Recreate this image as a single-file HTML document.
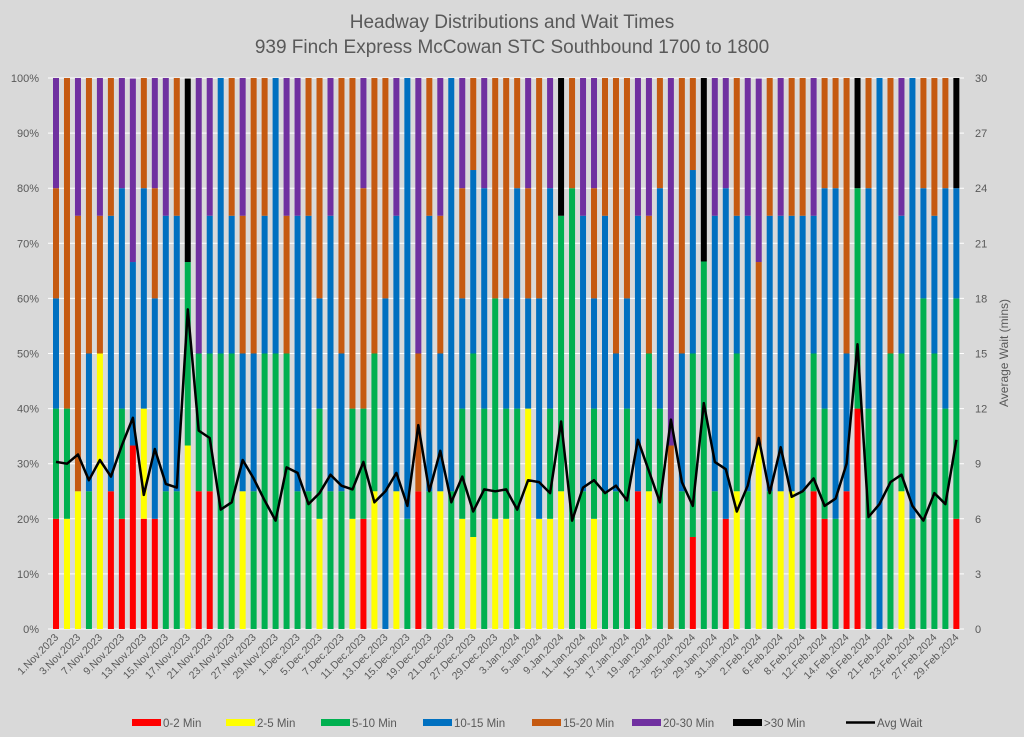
<!DOCTYPE html>
<html><head><meta charset="utf-8">
<style>
html,body{margin:0;padding:0;background:#d9d9d9;}
svg{display:block;font-family:"Liberation Sans",sans-serif;}
</style></head>
<body>
<svg id="chart" width="1024" height="737" viewBox="0 0 1024 737" xmlns="http://www.w3.org/2000/svg">
<rect x="0" y="0" width="1024" height="737" fill="#d9d9d9"/>
<text x="512" y="28" text-anchor="middle" font-size="19" fill="#595959">Headway Distributions and Wait Times</text>
<text x="512" y="53" text-anchor="middle" font-size="19" fill="#595959">939 Finch Express  McCowan STC Southbound 1700 to 1800</text>
<g id="grid"></g>
<g id="bars"></g>
<g id="line"></g>
<g id="axes"></g>
<text transform="translate(1008,353) rotate(-90)" text-anchor="middle" font-size="12" fill="#595959">Average Wait (mins)</text>
<g id="legend"></g>
</svg>
<script>
const categories = [
"1.Nov.2023","2.Nov.2023","3.Nov.2023","6.Nov.2023","7.Nov.2023","8.Nov.2023","9.Nov.2023","10.Nov.2023","13.Nov.2023","14.Nov.2023","15.Nov.2023","16.Nov.2023","17.Nov.2023","20.Nov.2023","21.Nov.2023","22.Nov.2023","23.Nov.2023","24.Nov.2023","27.Nov.2023","28.Nov.2023","29.Nov.2023","30.Nov.2023",
"1.Dec.2023","4.Dec.2023","5.Dec.2023","6.Dec.2023","7.Dec.2023","8.Dec.2023","11.Dec.2023","12.Dec.2023","13.Dec.2023","14.Dec.2023","15.Dec.2023","18.Dec.2023","19.Dec.2023","20.Dec.2023","21.Dec.2023","22.Dec.2023","27.Dec.2023","28.Dec.2023","29.Dec.2023",
"2.Jan.2024","3.Jan.2024","4.Jan.2024","5.Jan.2024","8.Jan.2024","9.Jan.2024","10.Jan.2024","11.Jan.2024","12.Jan.2024","15.Jan.2024","16.Jan.2024","17.Jan.2024","18.Jan.2024","19.Jan.2024","22.Jan.2024","23.Jan.2024","24.Jan.2024","25.Jan.2024","26.Jan.2024","29.Jan.2024","30.Jan.2024","31.Jan.2024",
"1.Feb.2024","2.Feb.2024","5.Feb.2024","6.Feb.2024","7.Feb.2024","8.Feb.2024","9.Feb.2024","12.Feb.2024","13.Feb.2024","14.Feb.2024","15.Feb.2024","16.Feb.2024","20.Feb.2024","21.Feb.2024","22.Feb.2024","23.Feb.2024","26.Feb.2024","27.Feb.2024","28.Feb.2024","29.Feb.2024"];
const seriesNames = ["0-2 Min","2-5 Min","5-10 Min","10-15 Min","15-20 Min","20-30 Min",">30 Min"];
const seriesColors = ["#ff0000","#ffff00","#00b050","#0070c0","#c55a11","#7030a0","#000000"];
const red    = [20,0,0,0,0,25,20,33.3,20,20,0,0,0,25,25,0,0,0,0,0,0,0,0,0,0,0,0,0,20,0,0,0,0,25,0,0,0,0,0,0,0,0,0,0,0,0,0,0,0,0,0,0,0,25,0,0,0,0,16.7,0,0,20,0,0,0,0,0,0,0,25,20,0,25,40,0,0,0,0,0,0,0,0,20];
const yellow = [0,20,25,0,50,0,0,0,20,0,0,0,33.3,0,0,0,0,25,0,0,0,0,0,0,20,0,0,20,0,25,0,25,0,0,0,25,0,20,16.7,0,20,20,0,40,20,20,25,0,0,20,0,0,0,0,25,0,0,0,0,0,0,0,25,0,33.3,0,25,25,0,0,0,0,0,0,0,0,0,25,0,0,0,0,0];
const green  = [20,20,0,25,0,0,20,0,0,0,25,25,33.3,25,25,50,50,0,25,50,50,50,25,25,20,25,25,20,20,25,0,0,20,0,25,0,25,20,33.3,40,40,20,40,0,0,20,50,80,25,20,25,25,40,0,25,40,0,25,33.3,66.7,25,0,25,25,0,25,0,0,25,25,20,20,0,40,40,0,50,25,20,60,50,40,40];
const blue   = [20,0,0,25,0,50,40,33.3,40,40,50,50,0,0,25,50,25,25,25,25,50,0,50,50,20,50,25,0,0,0,60,50,80,0,50,25,75,20,33.3,40,0,20,40,20,40,40,0,0,50,20,50,25,20,50,0,40,0,25,33.3,0,50,60,25,50,0,50,50,50,50,25,40,60,25,0,40,100,0,25,80,20,25,40,20];
const orange = [20,60,50,50,25,25,0,0,20,20,0,25,0,0,0,0,25,25,50,25,0,25,0,25,40,0,50,60,40,50,40,0,0,25,25,25,0,20,16.7,0,40,40,20,20,40,0,0,20,0,20,25,50,40,0,25,20,33.3,50,16.7,0,0,0,25,0,33.3,25,0,25,25,0,20,20,50,0,20,0,50,0,0,20,25,20,0];
const purple = [20,0,25,0,25,0,20,33.3,0,20,25,0,0,50,25,0,0,25,0,0,0,25,25,0,0,25,0,0,20,0,0,25,0,50,0,25,0,20,0,20,0,0,0,20,0,20,0,0,25,20,0,0,0,25,25,0,66.7,0,0,0,25,20,0,25,33.3,0,25,0,0,25,0,0,0,0,0,0,0,25,0,0,0,0,0];
const black  = [0,0,0,0,0,0,0,0,0,0,0,0,33.3,0,0,0,0,0,0,0,0,0,0,0,0,0,0,0,0,0,0,0,0,0,0,0,0,0,0,0,0,0,0,0,0,0,25,0,0,0,0,0,0,0,0,0,0,0,0,33.3,0,0,0,0,0,0,0,0,0,0,0,0,0,20,0,0,0,0,0,0,0,0,20];
const avgWait = [9.1,9.0,9.5,8.1,9.2,8.3,10.0,11.5,7.3,9.8,7.9,7.7,17.4,10.8,10.4,6.5,6.9,9.2,8.2,7.0,5.9,8.8,8.5,6.8,7.4,8.4,7.8,7.6,9.1,6.9,7.5,8.5,6.7,11.1,7.5,9.7,6.9,8.3,6.4,7.6,7.5,7.6,6.5,8.1,8.0,7.4,11.3,5.9,7.7,8.1,7.4,7.8,7.0,10.3,8.6,6.9,11.4,8.0,6.7,12.3,9.1,8.7,6.4,7.8,10.4,7.4,9.9,7.2,7.5,8.2,6.7,7.1,9.0,15.5,6.1,6.8,8.0,8.4,6.7,5.9,7.4,6.8,10.3];
const leftTicks = [0,10,20,30,40,50,60,70,80,90,100];
const rightTicks = [0,3,6,9,12,15,18,21,24,27,30];

const NS = "http://www.w3.org/2000/svg";
const X0 = 56, STEP = 10.98, BW = 6, YT = 78, YB = 629;
function xPos(i){ return X0 + i*STEP; }
function yPct(p){ return YB - p/100*(YB-YT); }
function yWait(v){ return YB - v/30*(YB-YT); }
function mk(tag, attrs, parent){ const e=document.createElementNS(NS,tag); for(const k in attrs) e.setAttribute(k,attrs[k]); parent.appendChild(e); return e; }

const grid=document.getElementById('grid'), axes=document.getElementById('axes');
leftTicks.forEach((t,j)=>{
  const gl=mk('line',{x1:48,x2:964,y1:yPct(t),y2:yPct(t),stroke:'#ffffff','stroke-width':1},grid);
  
  
  const tl=mk('text',{x:39,y:yPct(t)+4,'text-anchor':'end','font-size':11,fill:'#595959'},axes);
  tl.textContent=t+'%';
  
  
});
rightTicks.forEach(t=>{
  const tl=mk('text',{x:975,y:yWait(t)+4,'text-anchor':'start','font-size':11,fill:'#595959'},axes);
  tl.textContent=t;
  
  
});

const series=[red,yellow,green,blue,orange,purple,black];
const barsG=document.getElementById('bars');
categories.forEach((c,i)=>{
  let acc=0;
  series.forEach((s,k)=>{
    const v=s[i]; if(!v) return;
    const r=mk('rect',{x:xPos(i)-BW/2,y:yPct(acc+v),width:BW,height:yPct(acc)-yPct(acc+v),fill:seriesColors[k]},barsG);
    
    
    acc+=v;
  });
  if(i%2===0){
    const tx=xPos(i)+3, ty=638;
    const lbl=mk('text',{x:tx,y:ty,'text-anchor':'end','font-size':10.5,fill:'#595959',transform:'rotate(-45 '+tx+' '+ty+')'},axes);
    lbl.textContent=c;
    
    
  }
});

const pts=avgWait.map((v,i)=>xPos(i).toFixed(1)+','+yWait(v).toFixed(1)).join(' ');
const pl=mk('polyline',{points:pts,fill:'none',stroke:'#000000','stroke-width':2.5,'stroke-linejoin':'round'},document.getElementById('line'));



const leg=document.getElementById('legend');
const legX=[132,226,321,423,532,632,733];
seriesNames.forEach((n,k)=>{
  const sw=mk('rect',{x:legX[k],y:719,width:29,height:7,fill:seriesColors[k]},leg);
  
  
  const t=mk('text',{x:legX[k]+31,y:727,'font-size':11.5,fill:'#595959'},leg);
  t.textContent=n;
  
  
});
const ll=mk('line',{x1:846,x2:875,y1:722.5,y2:722.5,stroke:'#000',"stroke-width":2.5},leg);


const lt=mk('text',{x:877,y:727,'font-size':11.5,fill:'#595959'},leg);
lt.textContent='Avg Wait';


</script>
</body></html>
